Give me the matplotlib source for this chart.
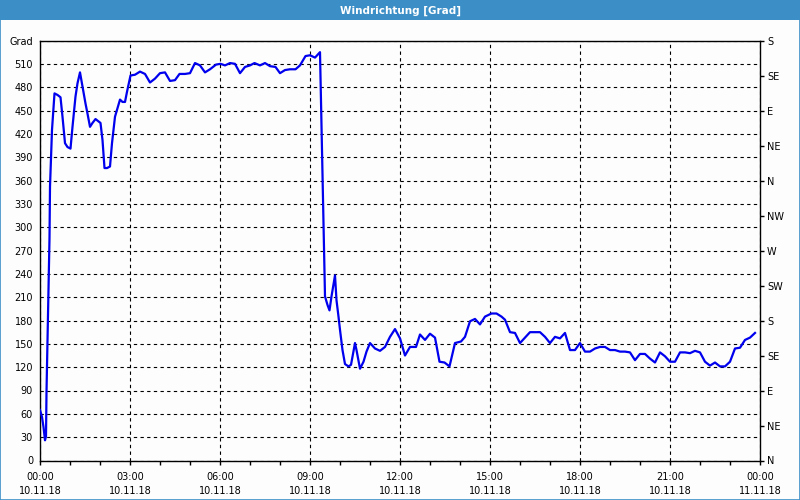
import matplotlib
matplotlib.use("Agg")
import matplotlib.pyplot as plt
from matplotlib.patches import Rectangle
from matplotlib.ticker import MultipleLocator, FixedLocator

# time in minutes since 10.11.18 00:00
minutes = [0, 4, 7, 10, 12, 13, 15, 17, 19, 20, 24, 29, 35, 41, 45, 50, 55, 61, 65, 71,
           75, 80, 85, 91, 95, 100, 105, 111, 115, 121, 125, 129, 134, 140, 144, 150, 155,
           160, 165, 170, 174, 181, 190, 200, 210, 220, 230, 240, 250, 260, 270, 279, 290,
           300, 310, 320, 330, 340, 352, 361, 370, 380, 390, 400, 410, 420, 429, 440, 450,
           460, 471, 480, 490, 500, 511, 520, 531, 540, 550, 560, 570, 575, 579, 583, 590,
           593, 597, 600, 605, 610, 617, 622, 630, 633, 640, 647, 653, 660, 670, 680, 690,
           700, 710, 720, 730, 740, 752, 760, 770, 780, 790, 799, 809, 819, 830, 842, 850,
           860, 870, 880, 890, 903, 913, 923, 930, 940, 950, 960, 970, 980, 1000, 1010,
           1020, 1030, 1040, 1050, 1060, 1070, 1080, 1090, 1100, 1110, 1120, 1130, 1140,
           1150, 1160, 1170, 1180, 1190, 1200, 1210, 1220, 1230, 1240, 1250, 1260, 1270,
           1280, 1290, 1300, 1310, 1320, 1330, 1340, 1350, 1360, 1370, 1380, 1390, 1400,
           1410, 1420, 1430]
direction = [65, 56, 43, 26, 31, 88, 155, 219, 286, 352, 425, 472, 470, 467, 442, 408, 403,
             401, 429, 468, 485, 499, 481, 459, 446, 429, 434, 439, 437, 434, 412, 376, 376,
             378, 408, 442, 453, 464, 461, 461, 474, 495, 496, 500, 497, 486, 491, 498, 499,
             488, 489, 497, 497, 498, 511, 508, 499, 503, 509, 510, 508, 511, 510, 498, 506,
             508, 511, 508, 511, 507, 506, 498, 502, 503, 503, 508, 520, 521, 518, 525, 211,
             200, 193, 211, 238, 206, 185, 168, 142, 124, 121, 123, 151, 142, 118, 127, 140,
             151, 144, 141, 146, 159, 169, 157, 135, 146, 146, 162, 155, 163, 158, 127, 126,
             121, 151, 153, 159, 179, 182, 175, 185, 189, 189, 185, 181, 165, 164, 151, 158,
             165, 165, 159, 151, 159, 157, 164, 142, 142, 151, 140, 140, 144, 146, 146, 142,
             142, 140, 140, 139, 129, 137, 137, 131, 126, 139, 134, 127, 127, 139, 139, 138,
             141, 139, 127, 122, 126, 121, 121, 127, 144, 145, 155, 158, 164]

title = "Windrichtung [Grad]"
y_label = "Grad"
x_tick_labels = ["00:00\n10.11.18", "03:00\n10.11.18", "06:00\n10.11.18", "09:00\n10.11.18",
                 "12:00\n10.11.18", "15:00\n10.11.18", "18:00\n10.11.18", "21:00\n10.11.18",
                 "00:00\n11.11.18"]
compass_labels = ["N", "NE", "E", "SE", "S", "SW", "W", "NW", "N", "NE", "E", "SE", "S"]

plt.rcParams['font.family'] = ['DejaVu Sans']
fs = 7

fig = plt.figure(figsize=(8, 5), dpi=100)
fig.patch.set_facecolor('#FCFDFC')

# title bar
fig.add_artist(Rectangle((0, 1 - 20 / 500), 1, 20 / 500, transform=fig.transFigure,
                         facecolor='#3C8FC6', edgecolor='none', zorder=0))
fig.add_artist(Rectangle((0.0006, 0.001), 0.9988, 0.998, transform=fig.transFigure,
                         facecolor='none', edgecolor='#3C8FC6', linewidth=1.2, zorder=0))
fig.text(0.5, 1 - 10.5 / 500, title, color='white', ha='center', va='center',
         fontsize=7.5, fontweight='bold')

ax = fig.add_axes([40 / 800, 1 - 460.5 / 500, 720 / 800, 420 / 500])
ax.set_facecolor('#FCFDFC')
ax.plot(minutes, direction, color='#0000EE', linewidth=1.6, zorder=3)

ax.set_xlim(0, 1440)
ax.set_ylim(0, 540)

ax.xaxis.set_minor_locator(MultipleLocator(60))
ax.set_xticks(list(range(0, 1441, 180)))
ax.set_xticklabels(x_tick_labels, fontsize=fs, linespacing=1.6)
ax.tick_params(axis='x', which='both', direction='out', length=3, width=1, pad=5)

yticks = list(range(0, 541, 30))
ax.set_yticks(yticks)
ax.set_yticklabels([str(v) for v in yticks[:-1]] + [y_label], fontsize=fs)
ax.tick_params(axis='y', which='both', length=0, pad=5)

ax.grid(True, which='major', color='black', linestyle=(0, (3, 3)), linewidth=0.8)
ax.set_axisbelow(True)
for s in ax.spines.values():
    s.set_color('black')
    s.set_linewidth(1)

ax2 = ax.twinx()
ax2.set_ylim(0, 540)
ax2.yaxis.set_major_locator(FixedLocator(list(range(0, 541, 45))))
ax2.set_yticklabels(compass_labels, fontsize=fs)
ax2.tick_params(axis='y', direction='out', length=3, width=1, pad=2)
for s in ax2.spines.values():
    s.set_visible(False)

fig.savefig("out.png", dpi=100, facecolor=fig.get_facecolor())
